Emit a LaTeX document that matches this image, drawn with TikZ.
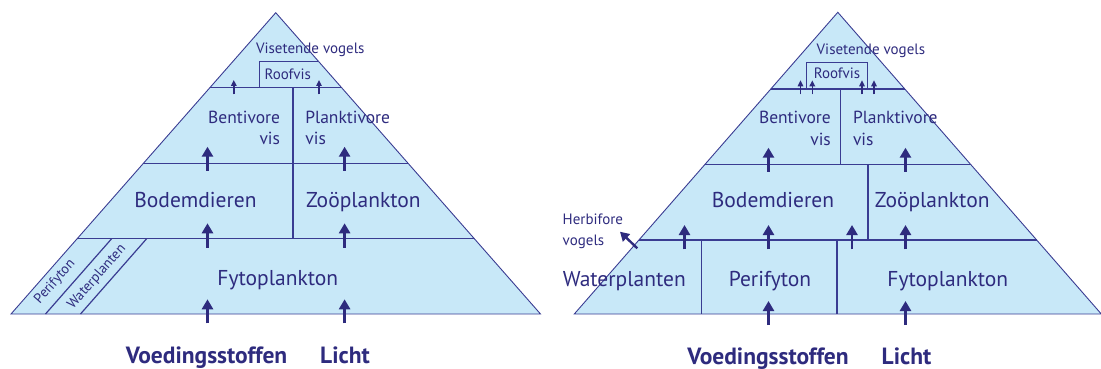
\documentclass[tikz,border=0pt]{standalone}
\usepackage{fontspec}
\setmainfont{PT Sans}
\usetikzlibrary{arrows.meta,calc}
\definecolor{ink}{HTML}{2E2B7E}
\definecolor{sky}{HTML}{C8E8F8}
\definecolor{rule}{HTML}{3A3C92}
\begin{document}
\begin{tikzpicture}[x=1pt,y=-1pt,
  small/.style={text=ink,inner sep=0pt,font=\fontsize{15}{17}\selectfont},
  tiny/.style={text=ink,inner sep=0pt,font=\fontsize{14}{16}\selectfont},
  mid/.style={text=ink,inner sep=0pt,font=\fontsize{17.5}{20}\selectfont},
  big/.style={text=ink,inner sep=0pt,font=\fontsize{21.5}{24}\selectfont},
  foot/.style={text=ink,inner sep=0pt,font=\fontsize{23.5}{26}\selectfont\bfseries},
  outline/.style={draw=rule,line width=0.9pt,fill=sky,line join=miter},
  divider/.style={draw=rule,line width=1.2pt},
  bigarrow/.style={draw=ink,line width=2.8pt,-{Triangle[width=11pt,length=10pt]}},
  smallarrow/.style={draw=ink,line width=1.4pt,-{Triangle[width=5.5pt,length=6pt]}},
]
\useasboundingbox (0,0) rectangle (1101,369);

% ---------------- left pyramid ----------------
\coordinate (LA) at (275.75,12.7);
\coordinate (LBL) at (11,314);
\coordinate (LBR) at (540.5,314);
\path[outline] (LA) -- (LBL) -- (LBR) -- cycle;
\draw[divider] (210.2,87.3) coordinate (L1a) -- (341.3,87.3) coordinate (L1b);
\draw[divider] (143.4,163.3) coordinate (L2a) -- (408.1,163.3) coordinate (L2b);
\draw[divider] (77.15,238.7) coordinate (L3a) -- (474.35,238.7) coordinate (L3b);
\draw[divider] (292.9,87.3) coordinate (LVa) -- (292.9,238.7) coordinate (LVb);
\draw[divider] (259.1,87.3) coordinate (LRa) -- (259.1,61.3) coordinate (LRb) -- (318.45,61.3) coordinate (LRc);
\draw[divider] (111.65,238.7) coordinate (LDa) -- (45.5,314) coordinate (LDb);
\draw[divider] (146.65,238.7) coordinate (LEa) -- (80.5,314) coordinate (LEb);

\node[small,anchor=base] (lvis) at (310.3,53.3) {Visetende vogels};
\node[small,anchor=base] (lroof) at (287.8,80) {Roofvis};
\node[mid,anchor=base east] (lbent) at (280.2,123.3) {Bentivore};
\node[mid,anchor=base east] (lbentb) at (280.2,144) {vis};
\node[mid,anchor=base west] (lplank) at (305.2,123.3) {Planktivore};
\node[mid,anchor=base west] (lplankb) at (305.2,144) {vis};
\node[big,anchor=base] (lbod) at (195.5,207.3) {Bodemdieren};
\node[big,anchor=base] (lzoo) at (363.4,207.3) {Zoöplankton};
\node[big,anchor=base] (lfyto) at (277.8,285) {Fytoplankton};
\node[tiny,rotate=48.7] (lperi) at (55,282) {Perifyton};
\node[tiny,rotate=48.7] (lwater) at (97,277) {Waterplanten};
\node[foot,anchor=base] (lvoed) at (206.6,363) {Voedingsstoffen};
\node[foot,anchor=base] (llicht) at (345,363) {Licht};

\draw[smallarrow] (233.8,94.3) coordinate (la1s) -- (233.8,80) coordinate (la1e);
\draw[smallarrow] (319,94.3) coordinate (la2s) -- (319,80) coordinate (la2e);
\foreach \xx/\nm in {207.5/a,344.6/b}{
  \draw[bigarrow] (\xx,170.7) coordinate (lu\nm s) -- (\xx,146.7) coordinate (lu\nm e);
  \draw[bigarrow] (\xx,247.7) coordinate (lm\nm s) -- (\xx,223.3) coordinate (lm\nm e);
  \draw[bigarrow] (\xx,323.3) coordinate (lb\nm s) -- (\xx,299.3) coordinate (lb\nm e);
}

% ---------------- right pyramid ----------------
\coordinate (RA) at (837.8,12.3);
\coordinate (RBL) at (574.3,314);
\coordinate (RBR) at (1101.3,314);
\path[outline] (RA) -- (RBL) -- (RBR) -- cycle;
\draw[divider] (770.8,89) coordinate (R1a) -- (904.8,89) coordinate (R1b);
\draw[divider] (705.0,164.3) coordinate (R2a) -- (970.6,164.3) coordinate (R2b);
\draw[divider] (638.9,240) coordinate (R3a) -- (1036.7,240) coordinate (R3b);
\draw[divider] (840.8,89) coordinate (RVa) -- (840.8,164.3) coordinate (RVb);
\draw[divider] (867.9,164.3) coordinate (RWa) -- (867.9,240) coordinate (RWb);
\draw[divider] (701.7,240) coordinate (RXa) -- (701.7,314) coordinate (RXb);
\draw[divider] (837,240) coordinate (RYa) -- (837,314) coordinate (RYb);
\draw[divider] (806.8,89) coordinate (RRa) -- (806.8,62.7) coordinate (RRb) -- (867.5,62.7) coordinate (RRc) -- (867.5,89) coordinate (RRd);

\node[small,anchor=base] (rvis) at (870.9,55) {Visetende vogels};
\node[small,anchor=base] (rroof) at (837,78.3) {Roofvis};
\node[mid,anchor=base east] (rbent) at (831,124) {Bentivore};
\node[mid,anchor=base east] (rbentb) at (831,145.7) {vis};
\node[mid,anchor=base west] (rplank) at (852.8,124) {Planktivore};
\node[mid,anchor=base west] (rplankb) at (852.8,145.7) {vis};
\node[big,anchor=base] (rbod) at (773,207.7) {Bodemdieren};
\node[big,anchor=base] (rzoo) at (932.2,207.7) {Zoöplankton};
\node[big,anchor=base] (rwater) at (624.3,286) {Waterplanten};
\node[big,anchor=base] (rperi) at (770,286) {Perifyton};
\node[big,anchor=base] (rfyto) at (947.8,286) {Fytoplankton};
\node[small,anchor=base west] (rherb) at (562.5,224.3) {Herbifore};
\node[small,anchor=base west] (rherbb) at (562.5,245) {vogels};
\node[foot,anchor=base] (rvoed) at (768,364) {Voedingsstoffen};
\node[foot,anchor=base] (rlicht) at (906.5,364) {Licht};

\foreach \xx/\nm in {800.5/a,812.3/b,862/c,874/d}{
  \draw[smallarrow] (\xx,94.5) coordinate (rs\nm s) -- (\xx,80.3) coordinate (rs\nm e);
}
\foreach \xx/\nm in {768.5/a,905.5/b}{
  \draw[bigarrow] (\xx,171.7) coordinate (ru\nm s) -- (\xx,147.7) coordinate (ru\nm e);
  \draw[bigarrow] (\xx,325) coordinate (rb\nm s) -- (\xx,301) coordinate (rb\nm e);
}
\foreach \xx/\nm in {684.5/a,768.5/b,852/c,905.5/d}{
  \draw[bigarrow] (\xx,249.3) coordinate (rm\nm s) -- (\xx,225) coordinate (rm\nm e);
}
\draw[draw=ink,line width=2.4pt,-{Triangle[width=10pt,length=9pt]}] (637.3,248.3) coordinate (rhs) -- (620,231.7) coordinate (rhe);
\end{tikzpicture}
\end{document}
